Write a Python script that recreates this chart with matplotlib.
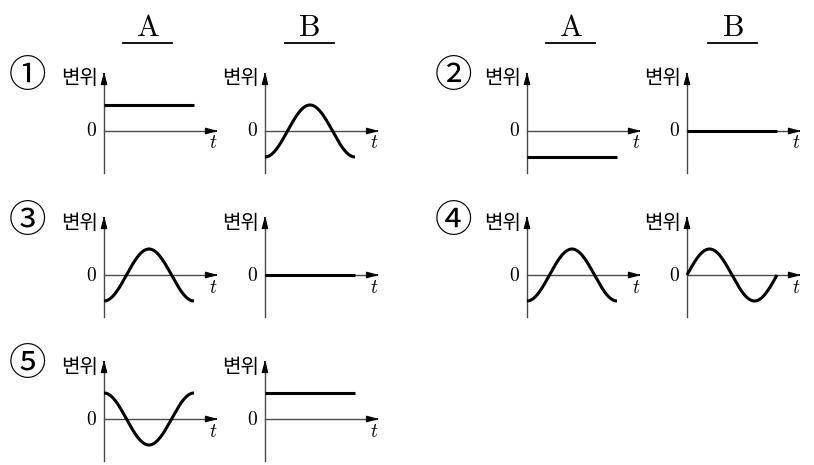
import numpy as np
import matplotlib
matplotlib.use("Agg")
import matplotlib.pyplot as plt
from matplotlib.lines import Line2D

plt.rcParams['mathtext.fontset'] = 'cm'
plt.rcParams['font.family'] = ['Noto Sans CJK KR', 'DejaVu Sans']

# ---- data ----
options = ['①', '②', '③', '④', '⑤']
column_labels = ['A', 'B']
y_label = '변위'
x_label = 't'
zero_label = '0'
# displacement = offset + amp * sin(2*pi*t + phase), t over one period
A_offset = [1, -1, 0, 0, 0]
A_amp = [0, 0, 1, 1, 1]
A_phase = [0, 0, -90, -90, 90]
B_offset = [0, 0, 0, 0, 1]
B_amp = [1, 0, 0, 1, 0]
B_phase = [-90, 0, 0, 0, 0]

# ---- layout (pixels) ----
W, H = 814, 465
PX, PY = 90.0, 26.0          # pixels per period, pixels per unit amplitude
col_x = [(104, 265), (527, 687)]   # y-axis x position for A, B in left / right block
row_zero = [131, 275, 419]
num_x = [28, 453]
header_x = [(147.5, 309), (570.5, 732.5)]

fig = plt.figure(figsize=(W / 100, H / 100), dpi=100)
fig.patch.set_facecolor('white')

AX_COLOR = '#4a4a4a'


def panel(x0, zero, offset, amp, phase):
    lp, rp, tp, bp = x0 - 60, x0 + 130, zero - 70, zero + 50
    ax = fig.add_axes([lp / W, 1 - bp / H, (rp - lp) / W, (bp - tp) / H])
    ax.set_xlim((lp - x0) / PX, (rp - x0) / PX)
    ax.set_ylim((zero - bp) / PY, (zero - tp) / PY)
    ax.axis('off')
    # axes
    ytop, ybot = 59 / PY, -42 / PY
    xtip = 114 / PX
    ax.plot([0, 0], [ybot, ytop - 4 / PY], color=AX_COLOR, lw=1.0, clip_on=False)
    ax.plot([0, xtip - 4 / PX], [0, 0], color=AX_COLOR, lw=1.0, clip_on=False)
    ax.annotate('', xy=(0, ytop), xytext=(0, ytop - 2 / PY),
                arrowprops=dict(arrowstyle='-|>,head_length=0.75,head_width=0.2',
                                color='black', lw=0.8, shrinkA=0, shrinkB=0))
    ax.annotate('', xy=(xtip, 0), xytext=(xtip - 2 / PX, 0),
                arrowprops=dict(arrowstyle='-|>,head_length=0.75,head_width=0.2',
                                color='black', lw=0.8, shrinkA=0, shrinkB=0))
    # curve
    t = np.linspace(0, 1, 300)
    y = offset + amp * np.sin(2 * np.pi * t + np.deg2rad(phase))
    ax.plot(t, y, color='black', lw=2.2, solid_capstyle='butt', clip_on=False)
    # labels
    ax.text(-6 / PX, 52 / PY, y_label, ha='right', va='center', fontsize=14.5,
            family=['Noto Sans CJK KR'], fontweight='light')
    ax.text(-7 / PX, 0, r'$' + zero_label + '$', ha='right', va='center', fontsize=14)
    ax.text(109 / PX, -12 / PY, r'$' + x_label + '$', ha='center', va='center', fontsize=14)


for i, opt in enumerate(options):
    block = i % 2
    row = i // 2
    zero = row_zero[row]
    xa, xb = col_x[block]
    panel(xa, zero, A_offset[i], A_amp[i], A_phase[i])
    panel(xb, zero, B_offset[i], B_amp[i], B_phase[i])
    fig.text(num_x[block] / W, 1 - (zero - 54) / H, opt, ha='center', va='center',
             fontsize=27, family=['Noto Sans CJK KR', 'DejaVu Sans'], fontweight='light')

for block in range(2):
    for j, lab in enumerate(column_labels):
        cx = header_x[block][j]
        fig.text(cx / W, 1 - 28 / H, r'$\mathrm{' + lab + '}$', ha='center', va='center',
                 fontsize=22)
        fig.add_artist(Line2D([(cx - 24.5) / W, (cx + 24.5) / W], [1 - 43 / H, 1 - 43 / H],
                              color='black', lw=1.3, transform=fig.transFigure))

fig.savefig('out.png', dpi=100, facecolor='white')
